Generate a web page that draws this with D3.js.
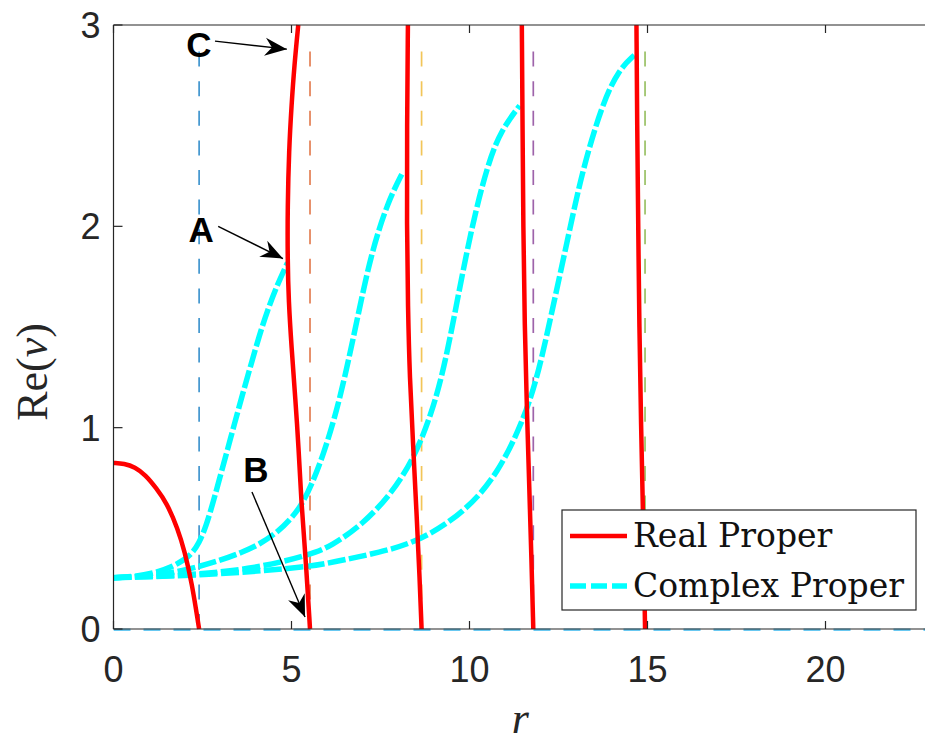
<!DOCTYPE html>
<html><head><meta charset="utf-8">
<script src="https://cdn.jsdelivr.net/npm/d3@7/dist/d3.min.js"></script>
<style>html,body{margin:0;padding:0;background:#fff;}svg{display:block;}</style>
</head><body>
<svg id="chart" width="925" height="751"></svg>
<script>
// ---------- data ----------
const xTicks = [0, 5, 10, 15, 20];
const yTicks = [0, 1, 2, 3];
const cutoffs = [2.405, 5.520, 8.654, 11.792, 14.931];

const realProper1 = [[0,0.825],[0.3,0.822],[0.6,0.805],[0.9,0.765],[1.2,0.70],[1.5,0.625],[1.8,0.50],[2.0,0.385],[2.2,0.23],[2.405,0]];
const realProper2 = [[5.19,3],[5.08,2.8],[5.0,2.6],[4.93,2.38],[4.89,2.1],[4.89,1.83],[4.92,1.63],[5.0,1.4],[5.11,1.14],[5.2,0.9],[5.27,0.64],[5.4,0.35],[5.52,0]];
const realProper3 = [[8.27,3],[8.245,2.5],[8.24,2.0],[8.27,1.6],[8.32,1.25],[8.42,0.9],[8.52,0.55],[8.6,0.25],[8.654,0]];
const realProper4 = [[11.47,3],[11.49,2.5],[11.51,2.0],[11.55,1.5],[11.61,1.1],[11.68,0.7],[11.74,0.35],[11.792,0]];
const realProper5 = [[14.69,3],[14.71,2.5],[14.74,2.0],[14.77,1.5],[14.82,1.0],[14.87,0.6],[14.91,0.25],[14.931,0]];

const complexProper1 = [[0,0.255],[0.6,0.26],[1.2,0.28],[1.6,0.305],[2.0,0.345],[2.2,0.375],[2.4,0.425],[2.6,0.51],[2.8,0.63],[3.0,0.76],[3.2,0.89],[3.4,1.02],[3.6,1.15],[3.84,1.30],[4.1,1.46],[4.32,1.58],[4.6,1.71],[4.89,1.82]];
const complexProper2 = [[0,0.255],[1,0.262],[2,0.29],[3,0.34],[3.6,0.38],[4.1,0.42],[4.6,0.48],[5.0,0.55],[5.3,0.62],[5.6,0.73],[5.9,0.87],[6.2,1.04],[6.5,1.25],[6.86,1.55],[7.23,1.86],[7.7,2.12],[8.13,2.27]];
const complexProper3 = [[0,0.255],[2,0.265],[4,0.3],[5.54,0.37],[6.1,0.41],[7,0.52],[7.8,0.67],[8.45,0.85],[8.93,1.07],[9.2,1.24],[9.4,1.4],[9.58,1.56],[10.06,2.0],[10.53,2.32],[10.9,2.48],[11.41,2.60]];
const complexProper4 = [[0,0.255],[3,0.27],[5.54,0.31],[6.1,0.33],[7.5,0.38],[8.64,0.44],[9.86,0.58],[10.8,0.77],[11.55,1.05],[11.95,1.28],[12.32,1.58],[12.8,1.97],[13.16,2.27],[13.73,2.61],[14.2,2.78],[14.63,2.85]];
const complexProperZero = [[0,0],[23,0]];

const labels = ["C", "A", "B"];
const labelPos = [[2.40,2.84],[2.46,1.92],[4.0,0.73]];
const arrowFrom = [[2.85,2.92],[2.94,2.0],[3.89,0.68]];
const arrowTo = [[4.87,2.88],[4.76,1.84],[5.38,0.06]];

const legendNames = ["Real Proper", "Complex Proper"];

// ---------- styles ----------
const cutoffColors = ["#0072BD","#D95319","#EDB120","#7E2F8E","#77AC30"];
const redC = "#FF0000", cyanC = "#00FFFF";
const axisColor = "#262626";

const svg = d3.select("#chart");
const pL = 113.5, pR = 113.5 + 23*35.6, pT = 25, pB = 629;
const x = d3.scaleLinear().domain([0, 23]).range([pL, pR]);
const y = d3.scaleLinear().domain([0, 3]).range([pB, pT]);

const defs = svg.append("defs");
defs.append("clipPath").attr("id","clip").append("rect")
  .attr("x", pL).attr("y", pT - 2).attr("width", pR - pL).attr("height", pB - pT + 4);
defs.append("marker").attr("id","arrowhead")
  .attr("markerUnits","userSpaceOnUse").attr("markerWidth",30).attr("markerHeight",30)
  .attr("viewBox","-25 -12 30 24").attr("refX",0).attr("refY",0).attr("orient","auto")
  .append("path").attr("d","M0,0 L-22,-9 L-15,0 L-22,9 Z").attr("fill","#000");

const line = d3.line().x(d => x(d[0])).y(d => y(d[1])).curve(d3.curveBasis);

const plot = svg.append("g").attr("clip-path","url(#clip)");

// cutoff dashed lines
plot.selectAll(".cut").data(cutoffs).enter().append("line")
  .attr("x1", d => x(d)).attr("x2", d => x(d))
  .attr("y1", y(0)).attr("y2", y(2.94))
  .attr("stroke", (d,i) => cutoffColors[i]).attr("stroke-opacity", 0.75)
  .attr("stroke-width", 1.7).attr("stroke-dasharray","15,14.6");

// axis lines (box)
const axG = svg.append("g");
axG.append("line").attr("x1",pL).attr("x2",pR).attr("y1",pB).attr("y2",pB).attr("stroke",axisColor).attr("stroke-width",1.2);
axG.append("line").attr("x1",pL).attr("x2",pR).attr("y1",pT).attr("y2",pT).attr("stroke",axisColor).attr("stroke-width",1.2);
axG.append("line").attr("x1",pL).attr("x2",pL).attr("y1",pT).attr("y2",pB).attr("stroke",axisColor).attr("stroke-width",1.2);

// zero complex branch
plot.append("path").datum(complexProperZero).attr("d", d3.line().x(d=>x(d[0])).y(d=>y(d[1])))
  .attr("fill","none").attr("stroke","#4DBEEE").attr("stroke-opacity",0.85).attr("stroke-width",3)
  .attr("stroke-dasharray","17,13").attr("transform","translate(0,1)");

// complex proper curves
const complexSets = [complexProper1, complexProper2, complexProper3, complexProper4];
plot.selectAll(".cp").data(complexSets).enter().append("path")
  .attr("d", line).attr("fill","none").attr("stroke", cyanC)
  .attr("stroke-width", 5.5).attr("stroke-dasharray","18,3.5");

// real proper curves
const realSets = [realProper1, realProper2, realProper3, realProper4, realProper5];
plot.selectAll(".rp").data(realSets).enter().append("path")
  .attr("d", line).attr("fill","none").attr("stroke", redC)
  .attr("stroke-width", 4.5).attr("stroke-linecap","butt");

// ticks (inward)
const tickG = svg.append("g").attr("stroke", axisColor).attr("stroke-width",1.2);
xTicks.forEach(t => {
  tickG.append("line").attr("x1",x(t)).attr("x2",x(t)).attr("y1",pB).attr("y2",pB-8);
  tickG.append("line").attr("x1",x(t)).attr("x2",x(t)).attr("y1",pT).attr("y2",pT+8);
});
yTicks.forEach(t => {
  tickG.append("line").attr("x1",pL).attr("x2",pL+9).attr("y1",y(t)).attr("y2",y(t));
});

// tick labels
const tl = svg.append("g").attr("font-family","'Liberation Sans', Arial, sans-serif").attr("font-size",36).attr("fill",axisColor);
tl.selectAll(".xt").data(xTicks).enter().append("text")
  .attr("x", d => x(d)).attr("y", pB + 53).attr("text-anchor","middle").text(d => d);
tl.selectAll(".yt").data(yTicks).enter().append("text")
  .attr("x", pL - 13).attr("y", d => y(d) + 13).attr("text-anchor","end").text(d => d);

// axis titles
const serif = "'DejaVu Serif', 'Liberation Serif', serif";
svg.append("text").attr("x", (pL + 935)/2 - 4).attr("y", 733)
  .attr("font-family","'Liberation Serif', serif").attr("font-style","italic").attr("font-size",44)
  .attr("text-anchor","middle").attr("fill",axisColor).text("r");
const yl = svg.append("text").attr("transform","translate(47,372) rotate(-90)")
  .attr("font-family","'Liberation Serif', serif").attr("font-size",44).attr("text-anchor","middle").attr("fill",axisColor);
yl.append("tspan").text("Re(");
yl.append("tspan").attr("font-style","italic").text("v");
yl.append("tspan").text(")");

// annotations
const ann = svg.append("g");
ann.selectAll(".arr").data(arrowFrom).enter().append("line")
  .attr("x1", d => x(d[0])).attr("y1", d => y(d[1]))
  .attr("x2", (d,i) => x(arrowTo[i][0])).attr("y2", (d,i) => y(arrowTo[i][1]))
  .attr("stroke","#000").attr("stroke-width",1.4).attr("marker-end","url(#arrowhead)");
ann.selectAll(".lab").data(labels).enter().append("text")
  .attr("x", (d,i) => x(labelPos[i][0])).attr("y", (d,i) => y(labelPos[i][1]))
  .attr("text-anchor","middle").attr("font-family","'Liberation Sans', Arial, sans-serif")
  .attr("font-weight","bold").attr("font-size",35).attr("fill","#000").text(d => d);

// legend
const lg = svg.append("g");
lg.append("rect").attr("x",562).attr("y",510).attr("width",354).attr("height",100)
  .attr("fill","#fff").attr("stroke",axisColor).attr("stroke-width",1.2);
const legStyles = [{c:redC, w:4.5, dash:null},{c:cyanC, w:5.5, dash:"16,5"}];
legendNames.forEach((n,i) => {
  const yy = 536 + i*50;
  lg.append("line").attr("x1",570).attr("x2",627).attr("y1",yy).attr("y2",yy)
    .attr("stroke",legStyles[i].c).attr("stroke-width",legStyles[i].w)
    .attr("stroke-dasharray",legStyles[i].dash);
  lg.append("text").attr("x",633).attr("y",yy+11).attr("font-family",serif)
    .attr("font-size",33).attr("fill","#111").text(n);
});
</script>
</body></html>
